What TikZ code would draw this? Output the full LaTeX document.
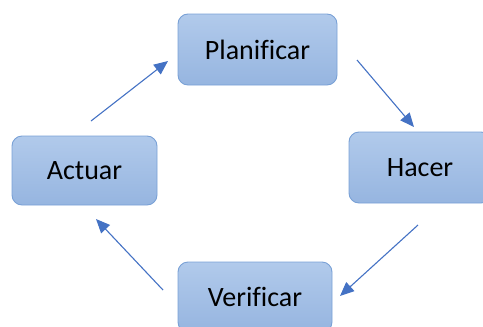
\documentclass[tikz,border=0pt]{standalone}
\usepackage{fontspec}
\setmainfont{Carlito}[Ligatures={NoCommon}]
\usetikzlibrary{arrows.meta}
\definecolor{boxtop}{HTML}{B1CAEB}
\definecolor{boxbot}{HTML}{96B5E0}
\definecolor{boxline}{HTML}{79A1D6}
\definecolor{arrowc}{HTML}{4472C4}
\begin{document}
\begin{tikzpicture}[x=1pt,y=-1pt,
  pdca/.style={draw=boxline,line width=0.9pt,rounded corners=10pt,top color=boxtop,bottom color=boxbot,
    font=\fontsize{28}{32}\selectfont,text=black,inner sep=0pt},
  flow/.style={draw=arrowc,line width=1.1pt,-{Triangle[length=14pt,width=12pt]}}]
\useasboundingbox (0,0) rectangle (483,327);
\node[pdca,minimum width=159pt,minimum height=71pt] (plan) at (257.5,49.5) {Planificar};
\node[pdca,minimum width=142pt,minimum height=71pt] (hacer) at (420,167.5) {Hacer};
\node[pdca,minimum width=145pt,minimum height=69pt] (actuar) at (84.5,170.5) {Actuar};
\node[pdca,minimum width=154pt,minimum height=70pt] (verif) at (255,297) {Verificar};
\coordinate (a1) at (91,121);
\coordinate (a2) at (168,61);
\coordinate (b1) at (357,60);
\coordinate (b2) at (414,127);
\coordinate (c1) at (418,225);
\coordinate (c2) at (340,296);
\coordinate (d1) at (163,290);
\coordinate (d2) at (96,219);
\draw[flow] (a1) -- (a2);
\draw[flow] (b1) -- (b2);
\draw[flow] (c1) -- (c2);
\draw[flow] (d1) -- (d2);
\end{tikzpicture}
\end{document}
